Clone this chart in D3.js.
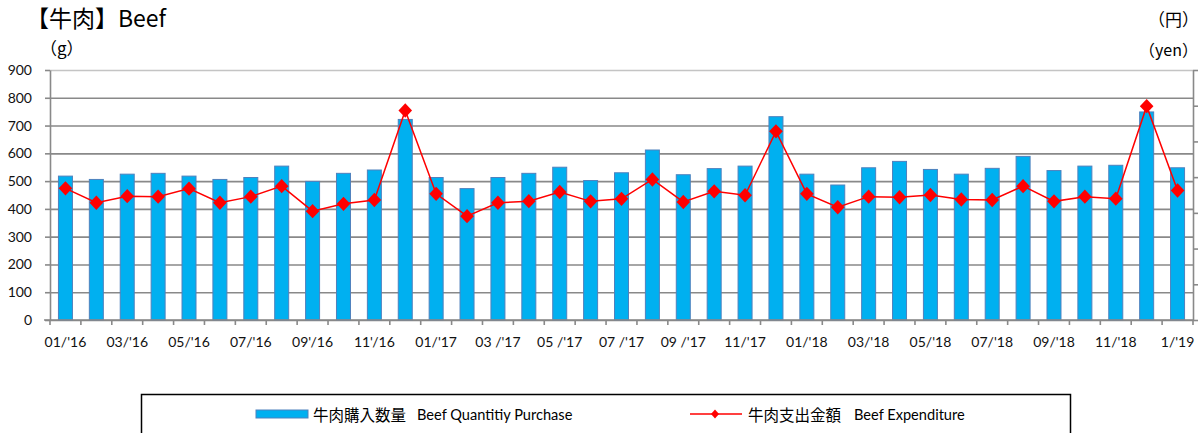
<!DOCTYPE html>
<html>
<head>
<meta charset="utf-8">
<script src="https://cdn.jsdelivr.net/npm/d3@7"></script>
<style>
  body { margin: 0; background: #fff; }
  svg { display: block; }
</style>
</head>
<body>
<svg id="chart"></svg>
<script>
// months shown on the x axis (one bar per month)
const months = ["01/16","02/16","03/16","04/16","05/16","06/16","07/16","08/16","09/16","10/16","11/16","12/16",
                "01/17","02/17","03/17","04/17","05/17","06/17","07/17","08/17","09/17","10/17","11/17","12/17",
                "01/18","02/18","03/18","04/18","05/18","06/18","07/18","08/18","09/18","10/18","11/18","12/18",
                "01/19"];
// only every other month gets a label
const monthLabels = {
  "01/16": "01/'16", "03/16": "03/'16", "05/16": "05/'16", "07/16": "07/'16", "09/16": "09'/16", "11/16": "11'/16",
  "01/17": "01/'17", "03/17": "03 /'17", "05/17": "05 /'17", "07/17": "07 /'17", "09/17": "09 /'17", "11/17": "11/'17",
  "01/18": "01/'18", "03/18": "03/'18", "05/18": "05/'18", "07/18": "07/'18", "09/18": "09/'18", "11/18": "11/'18",
  "01/19": "1/'19"
};
// beef quantity purchased (g)
const quantity = [518,506,525,528,518,506,513,554,499,528,540,722,
                  513,473,513,528,550,502,530,612,523,545,554,732,
                  525,486,548,571,542,525,546,589,538,554,557,749,
                  548];
// beef expenditure (yen), right axis
const expenditure = [1843,1641,1734,1727,1839,1641,1727,1874,1524,1626,1680,2932,
                     1766,1454,1641,1664,1793,1661,1696,1968,1653,1801,1746,2641,
                     1766,1579,1727,1719,1750,1688,1680,1874,1661,1727,1699,2994,
                     1812];
const leftTicks = [0,100,200,300,400,500,600,700,800,900];
const rightTicks = [0,500,1000,1500,2000,2500,3000,3500];

const W = 1200, H = 433;
const m = {left: 50, right: 7, top: 70, bottom: 113};

const svg = d3.select("#chart").attr("width", W).attr("height", H);

const x = d3.scaleBand().domain(months).range([m.left, W - m.right]).padding(0);
const yL = d3.scaleLinear().domain([0, 900]).range([H - m.bottom, m.top]);
const yR = d3.scaleLinear().domain([0, 3500]).range([H - m.bottom, m.top]);
const x0 = m.left, x1 = W - m.right, yb = H - m.bottom;
const gridColor = "#898989";

// horizontal grid
svg.append("g")
  .attr("transform", `translate(${x0},0)`)
  .call(d3.axisLeft(yL).tickValues(leftTicks).tickSize(-(x1 - x0)).tickFormat(""))
  .call(g => g.select(".domain").remove())
  .call(g => g.selectAll(".tick line")
    .attr("stroke", (d) => d === 900 ? "#c4c4c4" : gridColor)
    .attr("stroke-width", 1.6));

// left axis
svg.append("g")
  .attr("transform", `translate(${x0},0)`)
  .call(d3.axisLeft(yL).tickValues(leftTicks).tickSize(5).tickPadding(13).tickSizeOuter(0))
  .call(g => g.select(".domain").attr("stroke", gridColor).attr("stroke-width", 1.6))
  .call(g => g.selectAll(".tick line").attr("stroke", gridColor).attr("stroke-width", 1.6))
  .call(g => g.selectAll(".tick text")
    .attr("font-family", "Lato, 'Open Sans', sans-serif")
    .attr("font-size", 14).attr("fill", "#111"));

// right axis (labels fall outside the picture)
svg.append("g")
  .attr("transform", `translate(${x1},0)`)
  .call(d3.axisRight(yR).tickValues(rightTicks).tickSize(5).tickFormat("").tickSizeOuter(0))
  .call(g => g.select(".domain").attr("stroke", gridColor).attr("stroke-width", 1.6))
  .call(g => g.selectAll(".tick line").attr("stroke", gridColor).attr("stroke-width", 1.6));

// bars
svg.append("g").selectAll("rect")
  .data(quantity)
  .join("rect")
  .attr("x", (d, i) => x(months[i]) + x.bandwidth() / 2 - 7)
  .attr("y", d => yL(d))
  .attr("width", 14)
  .attr("height", d => yb - yL(d))
  .attr("fill", "#00b0f0")
  .attr("stroke", "#4f81bd")
  .attr("stroke-width", 1);

// bottom axis: labels at band centres, ticks at band edges
svg.append("g")
  .attr("transform", `translate(0,${yb})`)
  .call(d3.axisBottom(x).tickValues(Object.keys(monthLabels)).tickSize(0).tickPadding(17)
    .tickFormat(d => monthLabels[d]))
  .call(g => g.select(".domain").attr("stroke", gridColor).attr("stroke-width", 1.6)
    .attr("d", `M${x0 - 6},0H${x1 + 1}`))
  .call(g => g.selectAll(".tick text")
    .attr("font-family", "Lato, 'Open Sans', sans-serif")
    .attr("font-size", 14).attr("fill", "#111"));

svg.append("g").selectAll("line")
  .data(months.map(d => x(d)).concat([x1]))
  .join("line")
  .attr("x1", d => d).attr("x2", d => d)
  .attr("y1", yb).attr("y2", yb + 5)
  .attr("stroke", gridColor).attr("stroke-width", 1.6);

// expenditure line
const line = d3.line()
  .x((d, i) => x(months[i]) + x.bandwidth() / 2)
  .y(d => yR(d));

svg.append("path")
  .datum(expenditure)
  .attr("d", line)
  .attr("fill", "none")
  .attr("stroke", "#ff0000")
  .attr("stroke-width", 1.5);

const diamond = (w, h) => `M0,${-h}L${w},0L0,${h}L${-w},0Z`;
svg.append("g").selectAll("path")
  .data(expenditure)
  .join("path")
  .attr("transform", (d, i) => `translate(${x(months[i]) + x.bandwidth() / 2},${yR(d)})`)
  .attr("d", diamond(6.8, 7.2))
  .attr("fill", "#ff0000");

// titles and units
const cjk = "'Noto Sans CJK JP', 'Noto Sans', sans-serif";
svg.append("text").attr("x", 26).attr("y", 27)
  .attr("font-family", cjk).attr("font-size", 23).attr("fill", "#000")
  .text("【牛肉】Beef");
svg.append("text").attr("x", 40).attr("y", 55)
  .attr("font-family", cjk).attr("font-size", 17).attr("fill", "#000")
  .text("（g）");
svg.append("text").attr("x", 1148).attr("y", 26)
  .attr("font-family", cjk).attr("font-size", 17).attr("fill", "#000")
  .text("（円）");
svg.append("text").attr("x", 1139).attr("y", 56)
  .attr("font-family", cjk).attr("font-size", 16).attr("fill", "#000")
  .text("（yen）");

// legend
const lg = svg.append("g");
lg.append("rect")
  .attr("x", 141.5).attr("y", 394.5).attr("width", 929).attr("height", 60)
  .attr("fill", "none").attr("stroke", "#000").attr("stroke-width", 1.5);
lg.append("rect")
  .attr("x", 256).attr("y", 410).attr("width", 52).attr("height", 8)
  .attr("fill", "#00b0f0").attr("stroke", "#4f81bd").attr("stroke-width", 1);
lg.append("text").attr("x", 313).attr("y", 414).attr("dominant-baseline", "central")
  .attr("font-family", cjk).attr("font-size", 15.5).text("牛肉購入数量");
lg.append("text").attr("x", 417).attr("y", 414).attr("dominant-baseline", "central")
  .attr("font-family", "Lato, 'Open Sans', sans-serif").attr("font-size", 14.6).text("Beef Quantitiy Purchase");
lg.append("line")
  .attr("x1", 690).attr("x2", 742).attr("y1", 414).attr("y2", 414)
  .attr("stroke", "#ff0000").attr("stroke-width", 1.5);
lg.append("path")
  .attr("transform", "translate(715,414)")
  .attr("d", diamond(4, 4.5)).attr("fill", "#ff0000");
lg.append("text").attr("x", 748).attr("y", 414).attr("dominant-baseline", "central")
  .attr("font-family", cjk).attr("font-size", 15.5).text("牛肉支出金額");
lg.append("text").attr("x", 854).attr("y", 414).attr("dominant-baseline", "central")
  .attr("font-family", "Lato, 'Open Sans', sans-serif").attr("font-size", 14.6).text("Beef Expenditure");
</script>
</body>
</html>
